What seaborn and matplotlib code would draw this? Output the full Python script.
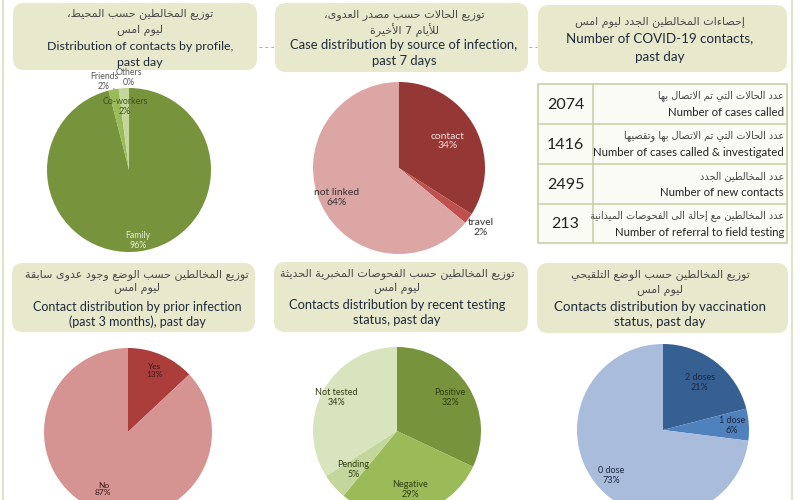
import numpy as np
import matplotlib
matplotlib.use("Agg")
import matplotlib.pyplot as plt
from matplotlib.patches import FancyBboxPatch, Rectangle
import seaborn as sns

sns.set_theme(style="white")
plt.rcParams['font.family'] = ['Lato', 'DejaVu Sans']

# Data
profile_labels = ["Family", "Friends", "Co-workers", "Others"]
profile_pct = [96, 2, 2, 0]
source_labels = ["contact", "travel", "not linked"]
source_pct = [34, 2, 64]
prior_labels = ["Yes", "No"]
prior_pct = [13, 87]
testing_labels = ["Positive", "Negative", "Pending", "Not tested"]
testing_pct = [32, 29, 5, 34]
vacc_labels = ["2 doses", "1 dose", "0 dose"]
vacc_pct = [21, 6, 73]

table_values = [2074, 1416, 2495, 213]
table_en = ["Number of cases called", "Number of cases called & investigated",
            "Number of new contacts", "Number of referral to field testing"]
table_ar = ["عدد الحالات التي تم الاتصال بها", "عدد الحالات التي تم الاتصال بها وتقصيها",
            "عدد المخالطين الجدد", "عدد المخالطين مع إحالة الى الفحوصات الميدانية"]

titles = [
    ("توزيع المخالطين حسب المحيط،", "ليوم امس", "Distribution of contacts by profile,", "past day"),
    ("توزيع الحالات حسب مصدر العدوى،", "للأيام 7 الأخيرة", "Case distribution by source of infection,", "past 7 days"),
    ("إحصاءات المخالطين الجدد ليوم امس", None, "Number of COVID-19 contacts,", "past day"),
    ("توزيع المخالطين حسب الوضع وجود عدوى سابقة", "ليوم امس", "Contact distribution by prior infection", "(past 3 months), past day"),
    ("توزيع المخالطين حسب الفحوصات المخبرية الحديثة", "ليوم امس", "Contacts distribution by recent testing", "status, past day"),
    ("توزيع المخالطين حسب الوضع التلقيحي", "ليوم امس", "Contacts distribution by vaccination", "status, past day"),
]

# simple arabic shaping (matplotlib has no complex text layout)
AR_FORMS = {}
_code = 0xFE80
for ch, n in zip("ءآأؤإئابةتثجحخدذرزسشصضطظعغفقكلمنهوىي",
                 [1, 2, 2, 2, 2, 4, 2, 4, 2, 4, 4, 4, 4, 4, 2, 2, 2, 2,
                  4, 4, 4, 4, 4, 4, 4, 4, 4, 4, 4, 4, 4, 4, 4, 2, 2, 4]):
    AR_FORMS[ch] = [chr(_code + i) for i in range(n)]
    _code += n
LAM_ALEF = {'آ': 0xFEF5, 'أ': 0xFEF7, 'إ': 0xFEF9, 'ا': 0xFEFB}


def ar(text):
    out = []
    prev = None
    i = 0
    while i < len(text):
        c = text[i]
        if c not in AR_FORMS:
            out.append(c)
            prev = None
            i += 1
            continue
        left = prev is not None and len(AR_FORMS[prev]) == 4
        nxt = text[i + 1] if i + 1 < len(text) else None
        if c == 'ل' and nxt in LAM_ALEF:
            out.append(chr(LAM_ALEF[nxt] + (1 if left else 0)))
            prev = nxt
            i += 2
            continue
        right = len(AR_FORMS[c]) == 4 and nxt in AR_FORMS
        form = (3 if left else 2) if right else (1 if left else 0)
        forms = AR_FORMS[c]
        if form >= len(forms):
            form = 0
        out.append(forms[form])
        prev = c
        i += 1
    return ''.join(reversed(out))


W, H = 800, 500
fig = plt.figure(figsize=(8, 5), dpi=100)
bg = fig.add_axes([0, 0, 1, 1])
bg.set_xlim(0, W)
bg.set_ylim(H, 0)
bg.axis('off')

# side rules and small connectors
bg.plot([3, 3], [0, H], color='#dfe3c9', lw=1.5)
bg.plot([792, 792], [0, H], color='#dfe3c9', lw=1.5)
bg.plot([259, 274], [47, 47], color='#aaaaaa', lw=0.7, ls=(0, (3, 3)))
bg.plot([529, 537], [47, 47], color='#aaaaaa', lw=0.7, ls=(0, (3, 3)))

box_col = '#e8e8cd'
en_col = '#1e2a3a'
ar_col = '#4a4a4a'
boxes = [(13, 3, 257, 70), (275, 3, 528, 72), (538, 5, 787, 72),
         (12, 263, 255, 332), (274, 262, 528, 332), (537, 263, 788, 333)]
text_x = [140, 404, 660, 137, 397, 660]
text_y = [(14, 31, 46, 62), (15, 30, 45, 61), (22, None, 38, 57),
          (275, 289, 307, 322), (274, 288, 305, 320), (275, 291, 307, 322)]
en_size = [8.9, 9.4, 9.6, 9.0, 9.3, 9.6]

for (x0, y0, x1, y1), tx, ty, tt, fs in zip(boxes, text_x, text_y, titles, en_size):
    bg.add_patch(FancyBboxPatch((x0, y0), x1 - x0, y1 - y0,
                                boxstyle="round,pad=0,rounding_size=11",
                                fc=box_col, ec='none'))
    bg.text(tx, ty[0], ar(tt[0]), ha='center', va='center', fontsize=8,
            color=ar_col, family=['DejaVu Sans'])
    if tt[1]:
        bg.text(tx, ty[1], ar(tt[1]), ha='center', va='center', fontsize=8,
                color=ar_col, family=['DejaVu Sans'])
    bg.text(tx, ty[2], tt[2], ha='center', va='center', fontsize=fs, color=en_col)
    bg.text(tx, ty[3], tt[3], ha='center', va='center', fontsize=fs, color=en_col)

# table
tbl_x0, tbl_x1, tbl_xm = 538, 787, 593
row_y = [84, 124, 164, 204, 243]
grid_col = '#c9d1a6'
bg.add_patch(Rectangle((tbl_x0, row_y[0]), tbl_x1 - tbl_x0, row_y[-1] - row_y[0],
                       fc='#fbfbf6', ec=grid_col, lw=1.2))
for y in row_y[1:-1]:
    bg.plot([tbl_x0, tbl_x1], [y, y], color=grid_col, lw=1.2)
bg.plot([tbl_xm, tbl_xm], [row_y[0], row_y[-1]], color=grid_col, lw=1.2)
for i, (v, en, a) in enumerate(zip(table_values, table_en, table_ar)):
    yt, yb = row_y[i], row_y[i + 1]
    bg.text((tbl_x0 + tbl_xm) / 2, (yt + yb) / 2 + 1, str(v), ha='center', va='center',
            fontsize=11.5, color='#222222')
    bg.text(tbl_x1 - 3, yt + 12, ar(a), ha='right', va='center', fontsize=7,
            color='#444444', family=['DejaVu Sans'])
    bg.text(tbl_x1 - 3, yt + 28, en, ha='right', va='center', fontsize=8.2,
            color='#222222')


def draw_pie(cx, cy, r, values, labels, colors, dists, lcolors, fs=7, shifts=None):
    ax = fig.add_axes([(cx - r) / W, (H - cy - r) / H, 2 * r / W, 2 * r / H])
    wedges, _ = ax.pie(values, colors=colors, startangle=90, counterclock=False,
                       radius=1, wedgeprops=dict(linewidth=0))
    ax.set_xlim(-1, 1)
    ax.set_ylim(-1, 1)
    ax.axis('off')
    shifts = shifts or [0] * len(values)
    for w, lab, v, d, c, s in zip(wedges, labels, values, dists, lcolors, shifts):
        ang = np.deg2rad((w.theta1 + w.theta2) / 2 + s)
        ax.text(d * np.cos(ang), d * np.sin(ang), f"{lab}\n{v}%", ha='center',
                va='center', fontsize=fs, color=c, linespacing=1.1)
    return ax, wedges


greens = ['#77933c', '#9bbb59', '#c3d69b', '#d7e4bd']

ax1, w1 = draw_pie(129, 170, 82, profile_pct, profile_labels, greens,
                   [0.87, 1.12, 0.78, 1.13], ['#e8eed8', '#555555', '#3d4f1c', '#555555'],
                   fs=6.3, shifts=[0, 5, 0, 0])
a = np.deg2rad((w1[1].theta1 + w1[1].theta2) / 2)
ax1.plot([np.cos(a), np.cos(a) + 0.04], [np.sin(a), np.sin(a) + 0.12], color='#777777', lw=0.6)

draw_pie(399, 168, 86, source_pct, source_labels, ['#953735', '#c0504d', '#dca6a5'],
         [0.65, 1.18, 0.8], ['#f2dcdb', '#333333', '#333333'], fs=7.5)

draw_pie(128, 432, 84, prior_pct, prior_labels, ['#ab3d3b', '#d59391'],
         [0.8, 0.74], ['#3a1a1a', '#3a1a1a'], fs=6)

draw_pie(397, 431, 84, testing_pct, testing_labels, greens,
         [0.75, 0.71, 0.69, 0.82], ['#2f3d12'] * 4, fs=6.5)

draw_pie(663, 430, 86, vacc_pct, vacc_labels, ['#376092', '#4f81bd', '#a9bcdb'],
         [0.7, 0.8, 0.8], ['#1a2740'] * 3, fs=6.5)

fig.savefig("out.png", dpi=100)
